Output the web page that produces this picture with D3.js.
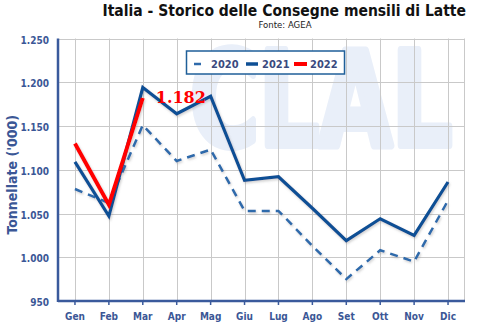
<!DOCTYPE html>
<html>
<head>
<meta charset="utf-8">
<script src="https://cdn.jsdelivr.net/npm/d3@7/dist/d3.min.js"></script>
<style>
  html, body { margin: 0; padding: 0; background: #ffffff; }
  svg { display: block; }
  text { font-family: "DejaVu Sans Condensed", "DejaVu Sans", sans-serif; }
</style>
</head>
<body>
<svg id="chart" width="480" height="329"></svg>
<script>
// Monthly milk deliveries in Italy, thousand tonnes
const months = ["Gen","Feb","Mar","Apr","Mag","Giu","Lug","Ago","Set","Ott","Nov","Dic"];
const seriesNames = ["2020","2021","2022"];
const values2020 = [1078, 1062, 1151, 1110, 1123, 1053, 1053, 1013, 975, 1008, 995, 1065];
const values2021 = [1109, 1047, 1194, 1164, 1184, 1088, 1092, 1056, 1019, 1044, 1025, 1086];
const values2022 = [1130, 1060, 1182];
const yTicks = [950, 1000, 1050, 1100, 1150, 1200, 1250];

const svg = d3.select("#chart");
const margin = {left: 58, right: 15, top: 38.5, bottom: 28};
const W = 480, H = 329;
const plotRight = W - margin.right;
const plotBottom = H - margin.bottom;

const x = d3.scaleBand().domain(months).range([margin.left, plotRight]);
const xc = m => x(m) + x.bandwidth() / 2;
const y = d3.scaleLinear().domain([950, 1250]).range([plotBottom, margin.top]);

const itLocale = d3.formatLocale({decimal: ",", thousands: ".", grouping: [3], currency: ["€", ""]});
const fmt = itLocale.format(",d");

const axisColor = "#3a5a9c";
const labelColor = "#3b5796";

// drop shadow for the series lines
const defs = svg.append("defs");
const f = defs.append("filter").attr("id", "shadow").attr("x", "-10%").attr("y", "-10%").attr("width", "130%").attr("height", "130%");
f.append("feDropShadow").attr("dx", 1).attr("dy", 1.5).attr("stdDeviation", 1)
  .attr("flood-color", "#888").attr("flood-opacity", 0.4);

// background watermark
svg.append("text")
  .attr("x", 190).attr("y", 145)
  .attr("textLength", 262).attr("lengthAdjust", "spacingAndGlyphs")
  .style("font-family", "'DejaVu Sans', sans-serif")
  .style("font-weight", "bold").style("font-size", "130px")
  .attr("fill", "#e9eff9").attr("stroke", "#e9eff9")
  .attr("stroke-width", 8).attr("stroke-linejoin", "round")
  .text("CLAL");

// gridlines
const grid = svg.append("g").attr("stroke", "#c9c9c9").attr("stroke-width", 1);
grid.selectAll("line.h").data(yTicks).join("line")
  .attr("x1", margin.left).attr("x2", plotRight)
  .attr("y1", d => Math.round(y(d)) + 0.5).attr("y2", d => Math.round(y(d)) + 0.5);
grid.selectAll("line.v").data(months).join("line")
  .attr("x1", d => Math.round(xc(d)) + 0.5).attr("x2", d => Math.round(xc(d)) + 0.5)
  .attr("y1", margin.top).attr("y2", plotBottom);
grid.append("line")
  .attr("x1", plotRight - 0.5).attr("x2", plotRight - 0.5)
  .attr("y1", margin.top).attr("y2", plotBottom);

// axes
const yAxis = svg.append("g").attr("transform", `translate(${margin.left},0)`)
  .call(d3.axisLeft(y).tickValues(yTicks).tickFormat(fmt).tickSize(0).tickPadding(9));
const xAxis = svg.append("g").attr("transform", `translate(0,${plotBottom})`)
  .call(d3.axisBottom(x).tickSize(4).tickPadding(8));
[yAxis, xAxis].forEach(a => {
  a.select(".domain").attr("stroke", axisColor).attr("stroke-width", 2.5);
  a.selectAll(".tick line").attr("stroke", axisColor).attr("stroke-width", 1.5);
  a.selectAll(".tick text").attr("fill", labelColor)
    .style("font-weight", "bold").style("font-size", "10px")
    .style("font-family", "'DejaVu Sans Condensed', 'DejaVu Sans', sans-serif");
});
yAxis.selectAll(".tick text").attr("dy", "0.45em");
xAxis.select(".domain").attr("d", `M${margin.left},0H${plotRight}`);
yAxis.select(".domain").attr("d", `M0,${margin.top}V${plotBottom + 1}`);

// axis title
svg.append("text")
  .attr("transform", `translate(17,${(margin.top + plotBottom) / 2 + 5}) rotate(-90)`)
  .attr("text-anchor", "middle")
  .attr("fill", labelColor)
  .style("font-weight", "bold").style("font-size", "14px")
  .text("Tonnellate ('000)");

// chart titles
svg.append("text")
  .attr("x", 466).attr("y", 16).attr("text-anchor", "end")
  .attr("fill", "#111")
  .style("font-weight", "bold").style("font-size", "15.5px")
  .text("Italia - Storico delle Consegne mensili di Latte");
svg.append("text")
  .attr("x", 285).attr("y", 28).attr("text-anchor", "middle")
  .attr("fill", "#222")
  .style("font-size", "9.5px")
  .text("Fonte: AGEA");

// series lines
const line = d3.line().x((d, i) => xc(months[i])).y(d => y(d));
const lines = svg.append("g").attr("filter", "url(#shadow)").attr("fill", "none")
  .attr("stroke-linejoin", "miter");
lines.append("path").datum(values2020).attr("d", line)
  .attr("stroke", "#2e6aab").attr("stroke-width", 2.5).attr("stroke-dasharray", "8,6");
lines.append("path").datum(values2021).attr("d", line)
  .attr("stroke", "#0e4f95").attr("stroke-width", 3.2);
lines.append("path").datum(values2022).attr("d", line)
  .attr("stroke", "#ff0000").attr("stroke-width", 4);

// value label on the last 2022 point
const last = values2022.length - 1;
svg.append("text")
  .attr("x", xc(months[last]) + 13).attr("y", y(values2022[last]) + 5)
  .attr("fill", "#ff0000")
  .style("font-family", "'DejaVu Serif', serif")
  .style("font-weight", "bold").style("font-size", "16px")
  .text(fmt(values2022[last]));

// legend
const legend = svg.append("g");
legend.append("rect")
  .attr("x", 186.5).attr("y", 51).attr("width", 158).attr("height", 23)
  .attr("fill", "#ffffff").attr("stroke", "#1f5f99").attr("stroke-width", 1.5);
const legendItems = [
  {name: seriesNames[0], sx: 194, ex: 201, tx: 211, color: "#2e6aab", w: 2.5},
  {name: seriesNames[1], sx: 246, ex: 258, tx: 262, color: "#0e4f95", w: 3.5},
  {name: seriesNames[2], sx: 294, ex: 307, tx: 310, color: "#ff0000", w: 4}
];
legendItems.forEach(it => {
  legend.append("line").attr("x1", it.sx).attr("x2", it.ex).attr("y1", 64).attr("y2", 64)
    .attr("stroke", it.color).attr("stroke-width", it.w);
  legend.append("text").attr("x", it.tx).attr("y", 68)
    .attr("fill", "#3a4a7e")
    .style("font-weight", "bold").style("font-size", "11px")
    .text(it.name);
});
</script>
</body>
</html>
